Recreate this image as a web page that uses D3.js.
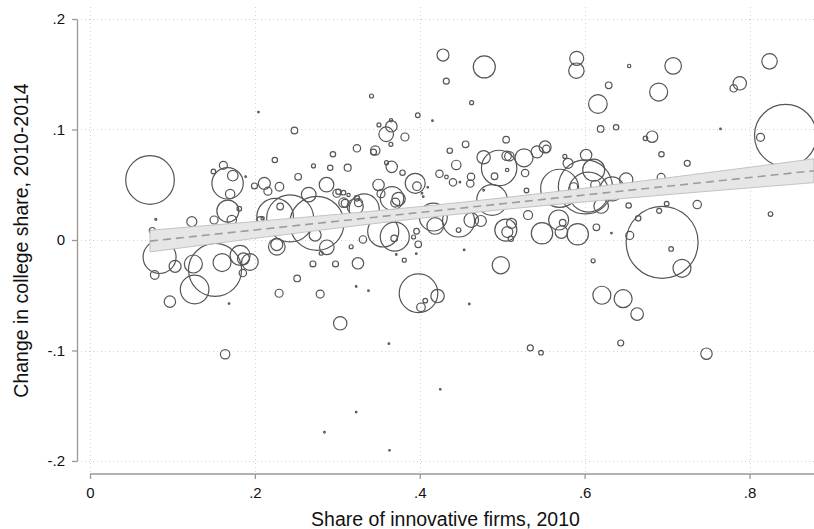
<!DOCTYPE html>
<html lang="en">
<head>
<meta charset="utf-8" />
<title>Innovative firms and college share</title>
<script src="https://d3js.org/d3.v7.min.js"></script>
<style>
    body {
        margin: 0;
        padding: 0;
        background: #fff;
    }
    svg {
        display: block;
        font-family: "Liberation Sans", Arial, Helvetica, sans-serif;
    }
</style>
</head>
<body>
<svg id="chart"></svg>
<script>
    // Share of innovative firms, 2010 (one value per local labour market)
    var innovShare = [
        .0728,.0798,.0756,.0844,.0785,.1032,.1235,.1618,.1497,.1669,
        .1732,.1700,.1672,.1811,.1505,.1720,.1888,.1995,.2115,.2158,
        .2298,.2242,.2480,.2043,.2525,.2711,.2914,.2947,.2869,.2653,
        .2307,.2246,.2428,.2752,.2094,.2064,.2266,.2266,.2731,.2873,
        .2804,.2704,.2978,.2513,.2294,.2792,.1254,.1517,.1269,.1602,
        .1821,.1861,.1940,.1854,.0969,.1687,.1639,.2844,.3035,.3014,
        .3075,.3136,.3257,.3326,.3126,.3238,.3439,.3460,.3505,.3168,
        .3311,.3250,.3229,.3378,.2995,.3075,.3096,.3238,.3217,.4282,
        .4783,.4322,.4629,.4154,.3415,.3976,.3656,.3593,.3652,.3820,
        .3650,.3660,.3597,.3791,.3500,.3530,.3945,.3966,.4097,.3663,
        .3743,.3703,.4027,.4042,.4364,.4556,.4443,.4239,.4324,.4403,
        .4487,.4622,.4613,.4775,.4963,.4907,.5060,.5048,.5054,.5087,
        .5265,.5423,.5521,.5536,.5278,.5295,.5314,.4775,.4877,.5904,
        .5900,.6540,.7074,.6292,.6161,.6898,.7882,.7808,.8243,.7648,
        .8437,.8134,.6194,.6382,.6819,.6738,.6932,.7245,.6928,.6534,
        .7366,.6995,.6904,.6650,.6547,.6940,.7049,.7181,.8255,.6325,
        .6103,.6143,.5916,.5718,.5685,.5734,.5483,.5044,.5113,.5062,
        .5105,.4625,.4741,.4471,.4471,.4164,.4188,.3697,.3557,.3690,
        .3925,.3961,.3982,.3958,.3812,.3715,.4539,.4983,.3985,.4216,
        .4067,.4015,.4601,.3626,.5341,.5471,.4249,.3229,.3633,.5697,
        .6009,.6018,.5799,.5760,.6110,.6046,.6333,.6504,.6201,.5867,
        .6131,.6438,.6209,.6467,.6637,.7478,.8781
    ];

    // Change in college share, 2010-2014
    var collegeChange = [
        .0543,.0187,.0086,-.0154,-.0317,-.0238,.0166,.0676,.0620,.0513,
        .0582,.0416,.0262,.0283,.0181,.0181,.0573,.0489,.0513,.0442,
        .0482,.0724,.0991,.1158,.0572,.0670,.0654,.0776,.0501,.0411,
        .0303,.0211,.0195,.0151,.0196,.0181,-.0061,-.0041,.0045,-.0066,
        -.0120,-.0217,-.0217,-.0348,-.0482,-.0489,-.0217,-.0271,-.0448,-.0204,
        -.0140,-.0170,-.0199,-.0299,-.0558,-.0575,-.1034,-.1740,-.0754,.0437,
        .0338,.0407,.0338,.0281,.0654,.0830,.0796,.0810,.1041,-.0061,
        .0005,-.0211,-.0421,-.0459,.0423,.0428,.0332,.0377,.0301,.1674,
        .1566,.1437,.1243,.1080,.1303,.1129,.1029,.0957,.1084,.0932,
        .0866,.0662,.0700,.0609,.0498,.0419,.0513,.0487,.0477,.0377,
        .0371,.0339,.0423,.0392,.0808,.0866,.0679,.0599,.0570,.0522,
        .0523,.0572,.0511,.0749,.0652,.0577,.0633,.0908,.0762,.0758,
        .0744,.0798,.0842,.0825,.0606,.0448,.0226,.0450,.0362,.1644,
        .1532,.1575,.1576,.1400,.1231,.1339,.1418,.1373,.1617,.1005,
        .0946,.0929,.1005,.1020,.0935,.0920,.0776,.0694,.0566,.0312,
        .0321,.0329,.0264,.0196,.0041,-.0021,-.0081,-.0256,.0235,.0063,
        -.0188,.0115,.0052,.0072,.0181,.0157,.0061,.0090,.0151,.0072,
        .0011,.0181,.0172,.0090,.0172,.0208,.0127,.0030,.0077,.0015,
        .0027,.0079,-.0039,-.0124,-.0183,-.0131,-.0090,-.0228,-.0482,-.0507,
        -.0549,-.0609,-.0579,-.0938,-.0977,-.1020,-.1351,-.1557,-.1903,.0468,
        .0480,.0769,.0694,.0756,.0633,.0434,.0462,.0546,.0308,.0482,
        .0498,-.0932,-.0500,-.0531,-.0670,-.1029,.0558
    ];

    // Bubble weight (employment, arbitrary units)
    var employment = [
        45.6,.08,.69,21.0,1.43,2.78,1.93,1.24,.41,19.0,
        2.17,1.71,9.34,.41,1.24,1.71,.05,.69,2.78,1.24,
        1.43,.56,.84,.05,.84,.31,.56,.56,4.11,4.11,
        .84,25.9,42.6,56.3,.22,.84,5.32,2.78,2.78,4.11,
        .31,.69,.69,.84,1.24,1.24,6.25,54.2,15.8,6.25,
        7.72,2.78,5.32,1.06,2.51,.05,1.71,.05,3.47,.56,
        1.71,.22,1.24,17.4,.95,1.06,.69,1.71,.31,.31,
        1.06,2.51,.05,.05,1.24,.41,1.24,.56,4.94,2.78,
        9.34,.69,.31,.05,.31,.41,2.51,4.11,.22,1.24,
        .31,2.51,.31,.56,2.51,1.24,7.72,1.43,.05,10.6,
        3.47,1.56,.05,.05,.56,.84,1.71,1.06,.25,1.06,
        .05,1.06,1.06,3.47,24.2,.84,.22,.84,1.71,1.71,
        6.25,2.78,2.78,1.06,1.06,.41,1.56,.05,18.1,3.78,
        4.58,.22,5.32,.84,6.68,6.25,3.47,1.06,4.58,.05,
        74.2,1.24,.84,.56,2.51,.41,.56,.69,1.24,.56,
        1.36,.41,.48,.56,1.24,100,.41,6.25,.41,.05,
        .31,.84,8.84,3.06,7.72,.84,8.84,9.34,1.93,2.34,
        .56,4.11,2.34,.41,19.8,15.1,5.32,16.2,18.6,.84,
        .31,.61,.84,.05,.31,.05,.05,5.71,28.8,3.47,
        .41,1.43,.05,.05,.69,.41,.05,.05,.05,27.9,
        56.3,2.51,1.93,.31,9.34,30.9,11.1,3.47,4.11,1.24,
        1.71,.69,6.25,6.25,3.06,2.51,.22
    ];

    // Linear fit with 95% confidence band
    var fitX   = [.0728, .2, .3, .4, .5, .6, .7, .8, .878];
    var fitY   = [-.0010, .0091, .0170, .0249, .0328, .0407, .0486, .0565, .0627];
    var ciLow  = [-.0108, .0015, .0108, .0196, .0275, .0345, .0410, .0472, .0519];
    var ciHigh = [.0088, .0167, .0232, .0302, .0381, .0469, .0562, .0658, .0735];

    var xTicks = [0, .2, .4, .6, .8];
    var xTickLabels = ["0", ".2", ".4", ".6", ".8"];
    var yTicks = [-.2, -.1, 0, .1, .2];
    var yTickLabels = ["-.2", "-.1", "0", ".1", ".2"];

    var w = 814;
    var h = 529;
    var plotLeft = 77, plotTop = 7, plotBottom = 474;

    var svg = d3.select("#chart")
                .attr("width", w)
                .attr("height", h);

    var xScale = d3.scaleLinear().domain([0, .8]).range([90, 749.5]);
    var yScale = d3.scaleLinear().domain([-.2, .2]).range([461, 19]);
    var rScale = d3.scaleSqrt().domain([0, 100]).range([0, 36]);

    // dotted grid
    var grid = svg.append("g")
        .attr("stroke", "#d2d2d2")
        .attr("stroke-width", 1)
        .attr("stroke-dasharray", "1,3");

    grid.selectAll(".vgrid")
        .data(xTicks)
        .enter().append("line")
        .attr("x1", function(d) { return Math.round(xScale(d)) + 0.5; })
        .attr("x2", function(d) { return Math.round(xScale(d)) + 0.5; })
        .attr("y1", plotTop)
        .attr("y2", plotBottom);

    grid.selectAll(".hgrid")
        .data(yTicks)
        .enter().append("line")
        .attr("x1", plotLeft)
        .attr("x2", w)
        .attr("y1", function(d) { return Math.round(yScale(d)) + 0.5; })
        .attr("y2", function(d) { return Math.round(yScale(d)) + 0.5; });

    // bubbles
    var points = innovShare.map(function(x, i) {
        return { x: x, y: collegeChange[i], w: employment[i] };
    });

    svg.append("g")
        .selectAll("circle")
        .data(points)
        .enter().append("circle")
        .attr("cx", function(d) { return xScale(d.x); })
        .attr("cy", function(d) { return yScale(d.y); })
        .attr("r", function(d) { return rScale(d.w); })
        .attr("fill", "none")
        .attr("stroke", "#555")
        .attr("stroke-width", 1.2);

    // confidence band and fitted line
    var fit = fitX.map(function(x, i) {
        return { x: x, y: fitY[i], lo: ciLow[i], hi: ciHigh[i] };
    });

    var band = d3.area()
        .x(function(d) { return xScale(d.x); })
        .y0(function(d) { return yScale(d.lo); })
        .y1(function(d) { return yScale(d.hi); })
        .curve(d3.curveMonotoneX);

    svg.append("path")
        .datum(fit)
        .attr("d", band)
        .attr("fill", "#e6e6e6")
        .attr("stroke", "#c3c3c3")
        .attr("stroke-width", 1);

    var fitLine = d3.line()
        .x(function(d) { return xScale(d.x); })
        .y(function(d) { return yScale(d.y); });

    svg.append("path")
        .datum(fit)
        .attr("d", fitLine)
        .attr("fill", "none")
        .attr("stroke", "#9c9c9c")
        .attr("stroke-width", 1.6)
        .attr("stroke-dasharray", "8,5");

    // y axis
    var yAxis = svg.append("g")
        .attr("transform", "translate(" + plotLeft + ",0)")
        .call(d3.axisLeft(yScale)
            .tickValues(yTicks)
            .tickSize(5)
            .tickSizeOuter(0)
            .tickPadding(7)
            .tickFormat(function(d, i) { return yTickLabels[i]; }));

    // x axis
    var xAxis = svg.append("g")
        .attr("transform", "translate(0," + plotBottom + ")")
        .call(d3.axisBottom(xScale)
            .tickValues(xTicks)
            .tickSize(5)
            .tickSizeOuter(0)
            .tickPadding(8)
            .tickFormat(function(d, i) { return xTickLabels[i]; }));

    xAxis.select(".domain").remove();
    xAxis.append("line")
        .attr("x1", xScale(0))
        .attr("x2", w)
        .attr("y1", 0)
        .attr("y2", 0);

    [yAxis, xAxis].forEach(function(ax) {
        ax.selectAll("path, line")
            .attr("stroke", "#999")
            .attr("stroke-width", 1.3);
        ax.selectAll("text")
            .attr("font-family", "'Liberation Sans', Arial, sans-serif")
            .attr("font-size", "15px")
            .attr("fill", "#111");
    });

    // axis titles
    svg.append("text")
        .attr("x", (plotLeft + w) / 2)
        .attr("y", 526)
        .attr("text-anchor", "middle")
        .attr("font-size", "19.5px")
        .attr("fill", "#111")
        .text("Share of innovative firms, 2010");

    svg.append("text")
        .attr("transform", "translate(28," + (plotTop + plotBottom) / 2 + ") rotate(-90)")
        .attr("text-anchor", "middle")
        .attr("font-size", "19.5px")
        .attr("fill", "#111")
        .text("Change in college share, 2010-2014");
</script>
</body>
</html>
